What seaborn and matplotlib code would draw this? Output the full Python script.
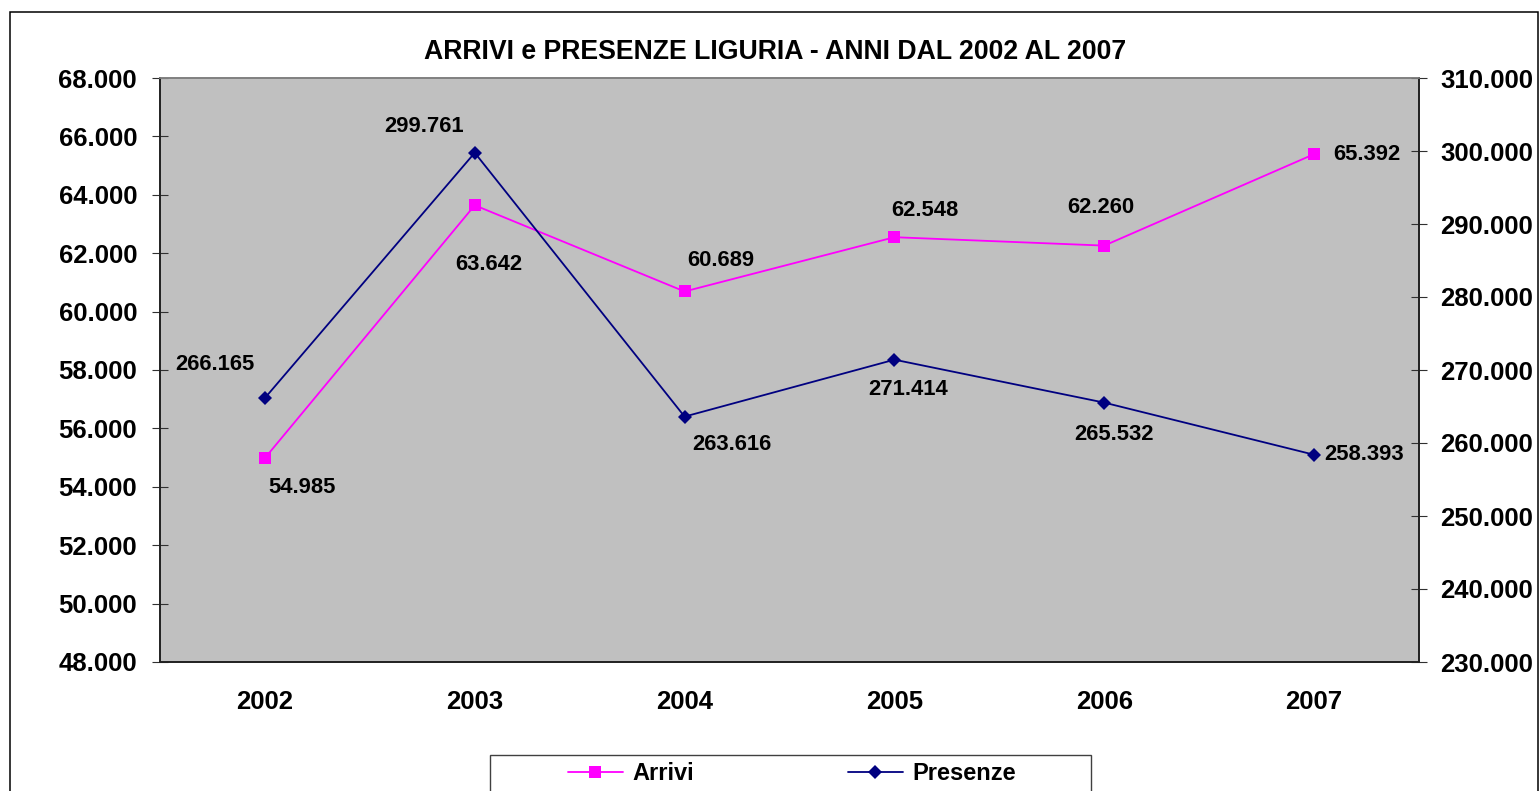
import matplotlib
matplotlib.use("Agg")
import matplotlib.pyplot as plt
import numpy as np
import pandas as pd
import seaborn as sns
from matplotlib.patches import Rectangle
from matplotlib.ticker import FuncFormatter, MultipleLocator


################################################################################################################
# Data
################################################################################################################

years = ["2002", "2003", "2004", "2005", "2006", "2007"]
arrivi = [54985, 63642, 60689, 62548, 62260, 65392]
presenze = [266165, 299761, 263616, 271414, 265532, 258393]

title = "ARRIVI e PRESENZE LIGURIA - ANNI DAL 2002 AL 2007"

# label offsets (pixels) relative to each point
arrivi_offsets = [(37, -29), (14, -59), (36, 31), (30, 27), (-3, 38), (53, 0)]
presenze_offsets = [(-50, 33), (-51, 26), (47, -28), (14, -30), (10, -32), (50, 0)]


def it_fmt(v, pos=None):
    return f"{v:,.0f}".replace(",", ".")


################################################################################################################
# Plot
################################################################################################################

sns.set_style("white")
plt.rcParams["font.family"] = ["Liberation Sans", "DejaVu Sans"]
plt.rcParams["font.weight"] = "bold"
plt.rcParams["text.color"] = "black"
plt.rcParams["xtick.labelcolor"] = "black"
plt.rcParams["ytick.labelcolor"] = "black"

W, H = 1540, 791
fig = plt.figure(figsize=(W / 100, H / 100), dpi=100)
ax = fig.add_axes([160 / W, 1 - 662 / H, 1259 / W, 584 / H])
ax.set_facecolor("#C0C0C0")
ax2 = ax.twinx()

xs = np.arange(len(years))
df = pd.DataFrame({"pos": xs, "Arrivi": arrivi, "Presenze": presenze})

sns.lineplot(data=df, x="pos", y="Arrivi", ax=ax, color="#FF00FF", marker="s",
             markersize=8.2, markeredgewidth=0, linewidth=1.3, legend=False)
sns.lineplot(data=df, x="pos", y="Presenze", ax=ax2, color="#000080", marker="D",
             markersize=7, markeredgewidth=0, linewidth=1.3, legend=False)

ax.set_xlim(-0.5, len(years) - 0.5)
ax.set_ylim(48000, 68000)
ax2.set_ylim(230000, 310000)
ax.yaxis.set_major_locator(MultipleLocator(2000))
ax2.yaxis.set_major_locator(MultipleLocator(10000))
ax.yaxis.set_major_formatter(FuncFormatter(it_fmt))
ax2.yaxis.set_major_formatter(FuncFormatter(it_fmt))
ax.set_xlabel("")
ax.set_ylabel("")
ax2.set_ylabel("")

ax.set_xticks(xs, labels=years)
ax.set_xticks(np.arange(-0.5, len(years)), minor=True)
ax.tick_params(axis="x", which="major", length=0, pad=20, labelsize=18.5, labelcolor="black")
ax.tick_params(axis="x", which="minor", direction="inout", length=11.5, width=0.8, color="#303030")
ax.tick_params(axis="y", direction="inout", length=11.5, width=0.8, color="#303030", pad=10.8,
               labelsize=18.5, labelcolor="black")
ax2.tick_params(axis="y", direction="inout", length=11.5, width=0.8, color="#303030", pad=9.4,
                labelsize=18.5, labelcolor="black")

for a in (ax, ax2):
    for side in ("left", "bottom", "right"):
        a.spines[side].set_color("#202020")
        a.spines[side].set_linewidth(1.2)
    a.spines["top"].set_color("#808080")
    a.spines["top"].set_linewidth(1.2)

# data labels
for x, v, off in zip(xs, arrivi, arrivi_offsets):
    ax.annotate(it_fmt(v), (x, v), xytext=off, textcoords="offset pixels",
                ha="center", va="center", fontsize=15.8, fontweight="bold", color="black")
for x, v, off in zip(xs, presenze, presenze_offsets):
    ax2.annotate(it_fmt(v), (x, v), xytext=off, textcoords="offset pixels",
                 ha="center", va="center", fontsize=15.8, fontweight="bold", color="black")

fig.text(775 / W, 1 - 52 / H, title, ha="center", va="center", fontsize=19.2,
         fontweight="bold", color="black")

# chart frame and legend box (cut at the bottom edge like the original)
fig.add_artist(Rectangle((10 / W, -0.1), 1528 / W, (H - 12) / H + 0.1, transform=fig.transFigure,
                         fill=False, ec="black", lw=1.1))
fig.add_artist(Rectangle((490 / W, -0.1), 601 / W, (H - 755) / H + 0.1, transform=fig.transFigure,
                         fc="white", ec="#404040", lw=1.0))

handles = [ax.lines[0], ax2.lines[0]]
leg = fig.legend(handles, ["Arrivi", "Presenze"], loc="center", bbox_to_anchor=(792 / W, 1 - 774 / H),
                 ncol=2, frameon=False, prop={"size": 17, "weight": "bold"},
                 handlelength=2.35, handletextpad=0.4, columnspacing=6.5)
for t in leg.get_texts():
    t.set_color("black")

fig.savefig("out.png", dpi=100)
